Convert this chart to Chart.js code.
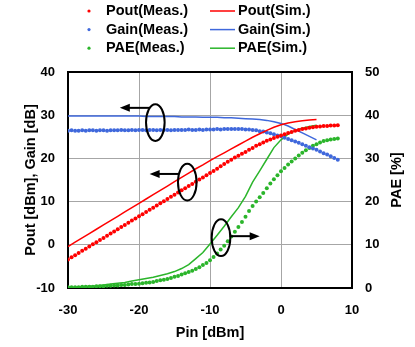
<!DOCTYPE html>
<html>
<head>
<meta charset="utf-8">
<script src="https://cdn.jsdelivr.net/npm/chart.js@4/dist/chart.umd.min.js"></script>
<style>
  html, body { margin: 0; padding: 0; background: #fff; }
  canvas { display: block; }
</style>
</head>
<body>
<canvas id="c" width="415" height="347"></canvas>
<script>
// measured sweep (dBm)
const pinMeas = [
  -30, -29.5, -29, -28.5, -28, -27.5, -27, -26.5, -26, -25.5,
  -25, -24.5, -24, -23.5, -23, -22.5, -22, -21.5, -21, -20.5,
  -20, -19.5, -19, -18.5, -18, -17.5, -17, -16.5, -16, -15.5,
  -15, -14.5, -14, -13.5, -13, -12.5, -12, -11.5, -11, -10.5,
  -10, -9.5, -9, -8.5, -8, -7.5, -7, -6.5, -6, -5.5,
  -5, -4.5, -4, -3.5, -3, -2.5, -2, -1.5, -1, -0.5,
  0, 0.5, 1, 1.5, 2, 2.5, 3, 3.5, 4, 4.5,
  5, 5.5, 6, 6.5, 7, 7.5, 8
]
const poutMeas = [
  -3.4, -2.9, -2.4, -1.9, -1.4, -0.9, -0.4, 0.1, 0.6, 1.1,
  1.6, 2.1, 2.6, 3.1, 3.6, 4.1, 4.6, 5.1, 5.6, 6.1,
  6.6, 7.1, 7.6, 8.1, 8.6, 9.1, 9.6, 10.1, 10.6, 11.1,
  11.6, 12.1, 12.6, 13.1, 13.6, 14.1, 14.6, 15.1, 15.6, 16.1,
  16.6, 17.1, 17.6, 18.2, 18.7, 19.2, 19.7, 20.2, 20.6, 21.1,
  21.5, 22.0, 22.4, 22.9, 23.3, 23.7, 24.1, 24.4, 24.7, 25.0,
  25.3, 25.6, 25.9, 26.1, 26.4, 26.6, 26.8, 26.9, 27.1, 27.2,
  27.3, 27.4, 27.5, 27.5, 27.6, 27.6, 27.7
]
const gainMeas = [
  26.4, 26.5, 26.4, 26.4, 26.5, 26.4, 26.5, 26.5, 26.4, 26.5,
  26.5, 26.4, 26.5, 26.5, 26.5, 26.6, 26.5, 26.5, 26.6, 26.5,
  26.6, 26.6, 26.5, 26.6, 26.6, 26.5, 26.6, 26.6, 26.6, 26.5,
  26.6, 26.6, 26.6, 26.6, 26.7, 26.6, 26.6, 26.7, 26.6, 26.7,
  26.7, 26.7, 26.8, 26.7, 26.8, 26.8, 26.8, 26.8, 26.8, 26.8,
  26.7, 26.7, 26.6, 26.5, 26.3, 26.2, 26.0, 25.8, 25.6, 25.3,
  25.1, 24.8, 24.5, 24.2, 23.9, 23.6, 23.3, 22.9, 22.6, 22.3,
  22.0, 21.6, 21.2, 20.9, 20.5, 20.1, 19.7
]
const paeMeas = [
  0.2, 0.2, 0.2, 0.2, 0.3, 0.3, 0.3, 0.3, 0.4, 0.4,
  0.4, 0.5, 0.5, 0.6, 0.6, 0.7, 0.7, 0.8, 0.9, 0.9,
  1.0, 1.1, 1.2, 1.3, 1.4, 1.6, 1.8, 1.9, 2.1, 2.3,
  2.6, 2.8, 3.1, 3.4, 3.7, 4.0, 4.4, 4.8, 5.3, 5.8,
  6.4, 7.2, 8.0, 8.9, 9.8, 10.8, 11.9, 13.0, 14.1, 15.3,
  16.5, 17.8, 19.0, 20.0, 21.0, 22.0, 23.1, 24.2, 25.2, 26.1,
  27.0, 27.8, 28.6, 29.3, 30.0, 30.7, 31.3, 31.9, 32.4, 32.9,
  33.3, 33.7, 34.0, 34.2, 34.4, 34.5, 34.6
]

// simulation sweep (dBm)
const pinSim = [
  -30, -29, -28, -27, -26, -25, -24, -23, -22, -21,
  -20, -19, -18, -17, -16, -15, -14, -13, -12, -11,
  -10, -9, -8, -7, -6, -5, -4, -3, -2, -1,
  0, 1, 2, 3, 4, 5
]
const poutSim = [
  -0.4, 0.6, 1.6, 2.6, 3.6, 4.6, 5.6, 6.6, 7.6, 8.6,
  9.6, 10.6, 11.6, 12.6, 13.6, 14.6, 15.6, 16.6, 17.6, 18.5,
  19.5, 20.4, 21.3, 22.2, 23.1, 24.0, 24.9, 25.7, 26.5, 27.2,
  27.8, 28.2, 28.5, 28.7, 28.9, 29.0
]
const gainSim = [
  29.8, 29.8, 29.8, 29.8, 29.8, 29.8, 29.8, 29.8, 29.8, 29.8,
  29.8, 29.7, 29.7, 29.7, 29.7, 29.7, 29.6, 29.6, 29.6, 29.5,
  29.5, 29.5, 29.4, 29.4, 29.3, 29.2, 29.1, 29.0, 28.8, 28.5,
  28.1, 27.5, 26.7, 25.9, 25.1, 24.3
]
const paeSim = [
  0.2, 0.2, 0.3, 0.4, 0.5, 0.7, 0.9, 1.1, 1.3, 1.6,
  1.9, 2.2, 2.5, 2.9, 3.3, 3.8, 4.5, 5.4, 6.8, 8.2,
  10.2, 12.2, 14.3, 16.5, 18.6, 21.2, 24.5, 27.1, 29.8, 32.5,
  34.3, 35.6, 36.5, 37.0, 37.4, 37.7
]

const seriesLabels = ['Pout(Meas.)', 'Pout(Sim.)', 'Gain(Meas.)', 'Gain(Sim.)', 'PAE(Meas.)', 'PAE(Sim.)']
const xTicks = [-30, -20, -10, 0, 10]
const yTicks = [-10, 0, 10, 20, 30, 40]
const y2Ticks = [0, 10, 20, 30, 40, 50]
const y2Title = 'PAE [%]'

// ellipse + arrow call-outs, in data units of the left axis
const callouts = [
  { x: -17.7, y: 28.3, arrowY: 31.7, arrowTo: -22.7 },
  { x: -13.2, y: 14.5, arrowY: 16.4, arrowTo: -18.5 },
  { x: -8.45, y: 1.65, arrowY: 2.0, arrowTo: -3.0 },
]

const RED = '#ff0000'
const BLUE = '#3f68dc'
const GREEN = '#2bb52b'
const FONT = "'Liberation Sans', Arial, sans-serif"

const pts = (xs, ys) => xs.map((x, i) => ({ x: x, y: ys[i] }))

function measSet(label, data, color, axis) {
  return {
    label: label, data: data, yAxisID: axis,
    showLine: false, pointRadius: 2, pointStyle: 'circle',
    pointBackgroundColor: color, pointBorderWidth: 0, borderColor: color, backgroundColor: color,
  }
}
function simSet(label, data, color, axis) {
  return {
    label: label, data: data, yAxisID: axis,
    showLine: true, pointRadius: 0, borderColor: color, backgroundColor: color,
    borderWidth: 1.5, tension: 0,
  }
}

const legendPlugin = {
  id: 'legend2col',
  afterDraw(chart) {
    const ctx = chart.ctx
    ctx.save()
    ctx.font = 'bold 14.5px ' + FONT
    ctx.textBaseline = 'middle'
    ctx.fillStyle = '#000'
    chart.data.datasets.forEach((ds, i) => {
      const row = Math.floor(i / 2)
      const col = i % 2
      const y = 11 + row * 18.6
      if (col === 0) {
        ctx.fillStyle = ds.borderColor
        ctx.beginPath()
        ctx.arc(89, y, 1.6, 0, Math.PI * 2)
        ctx.fill()
        ctx.fillStyle = '#000'
        ctx.fillText(ds.label, 106, y)
      } else {
        ctx.strokeStyle = ds.borderColor
        ctx.lineWidth = 1.5
        ctx.beginPath()
        ctx.moveTo(210, y)
        ctx.lineTo(235, y)
        ctx.stroke()
        ctx.fillStyle = '#000'
        ctx.fillText(ds.label, 238, y)
      }
    })

    // right axis title reads bottom-to-top like the left one
    const a = chart.chartArea
    ctx.translate(397, (a.top + a.bottom) / 2)
    ctx.rotate(-Math.PI / 2)
    ctx.textAlign = 'center'
    ctx.fillStyle = '#000'
    ctx.fillText(y2Title, 0, 0)
    ctx.restore()
  },
}

const framePlugin = {
  id: 'frame',
  beforeDatasetsDraw(chart) {
    const { ctx, chartArea: a } = chart
    ctx.save()
    ctx.strokeStyle = '#000'
    ctx.lineWidth = 2
    ctx.strokeRect(a.left, a.top, a.right - a.left, a.bottom - a.top)
    ctx.restore()
  },
  afterDatasetsDraw(chart) {
    const { ctx, scales } = chart
    const sx = scales.x, sy = scales.y
    ctx.save()
    ctx.strokeStyle = '#000'
    ctx.fillStyle = '#000'
    ctx.lineWidth = 2
    callouts.forEach((c) => {
      const cx = sx.getPixelForValue(c.x)
      const cy = sy.getPixelForValue(c.y)
      ctx.beginPath()
      ctx.ellipse(cx, cy, 9.3, 18.4, 0, 0, Math.PI * 2)
      ctx.stroke()
      const ay = sy.getPixelForValue(c.arrowY)
      const tip = sx.getPixelForValue(c.arrowTo)
      const dir = tip < cx ? -1 : 1
      const dy = ay - cy
      const start = cx + dir * 9.3 * Math.sqrt(Math.max(0, 1 - (dy * dy) / (18.4 * 18.4)))
      ctx.beginPath()
      ctx.moveTo(start, ay)
      ctx.lineTo(tip - dir * 8, ay)
      ctx.stroke()
      ctx.beginPath()
      ctx.moveTo(tip, ay)
      ctx.lineTo(tip - dir * 10, ay - 4)
      ctx.lineTo(tip - dir * 10, ay + 4)
      ctx.closePath()
      ctx.fill()
    })
    ctx.restore()
  },
}

const gridColor = (ctx) => {
  const v = ctx.tick && ctx.tick.value
  const s = ctx.scale
  return v === s.min || v === s.max ? 'rgba(0,0,0,0)' : '#a6a6a6'
}

new Chart(document.getElementById('c'), {
  type: 'scatter',
  data: {
    datasets: [
      measSet(seriesLabels[0], pts(pinMeas, poutMeas), RED, 'y'),
      simSet(seriesLabels[1], pts(pinSim, poutSim), RED, 'y'),
      measSet(seriesLabels[2], pts(pinMeas, gainMeas), BLUE, 'y'),
      simSet(seriesLabels[3], pts(pinSim, gainSim), BLUE, 'y'),
      measSet(seriesLabels[4], pts(pinMeas, paeMeas), GREEN, 'y2'),
      simSet(seriesLabels[5], pts(pinSim, paeSim), GREEN, 'y2'),
    ],
  },
  options: {
    responsive: false,
    animation: false,
    devicePixelRatio: 1,
    layout: { padding: { top: 72, left: 0, right: 0, bottom: 0 } },
    plugins: { legend: { display: false }, tooltip: { enabled: false } },
    scales: {
      x: {
        type: 'linear', min: -30, max: 10,
        afterBuildTicks: (s) => { s.ticks = xTicks.map((v) => ({ value: v })) },
        afterFit: (s) => { s.height = 59 },
        grid: { color: gridColor, drawTicks: false, lineWidth: 1 },
        border: { display: false },
        ticks: { color: '#000', padding: 15, font: { family: FONT, size: 13, weight: 'bold' } },
        title: { display: true, text: 'Pin [dBm]', color: '#000', padding: { top: 0, bottom: 5 },
          font: { family: FONT, size: 14.5, weight: 'bold' } },
      },
      y: {
        type: 'linear', position: 'left', min: -10, max: 40,
        afterBuildTicks: (s) => { s.ticks = yTicks.map((v) => ({ value: v })) },
        afterFit: (s) => { s.width = 68 },
        grid: { color: gridColor, drawTicks: false, lineWidth: 1 },
        border: { display: false },
        ticks: { color: '#000', padding: 13, font: { family: FONT, size: 13, weight: 'bold' } },
        title: { display: true, text: 'Pout [dBm], Gain [dB]', color: '#000', padding: { top: 22, bottom: 0 },
          font: { family: FONT, size: 14.5, weight: 'bold' } },
      },
      y2: {
        type: 'linear', position: 'right', min: 0, max: 50,
        afterBuildTicks: (s) => { s.ticks = y2Ticks.map((v) => ({ value: v })) },
        afterFit: (s) => { s.width = 63 },
        grid: { display: false, drawTicks: false },
        border: { display: false },
        ticks: { color: '#000', padding: 13, font: { family: FONT, size: 13, weight: 'bold' } },
        title: { display: false },
      },
    },
  },
  plugins: [legendPlugin, framePlugin],
})
</script>
</body>
</html>
